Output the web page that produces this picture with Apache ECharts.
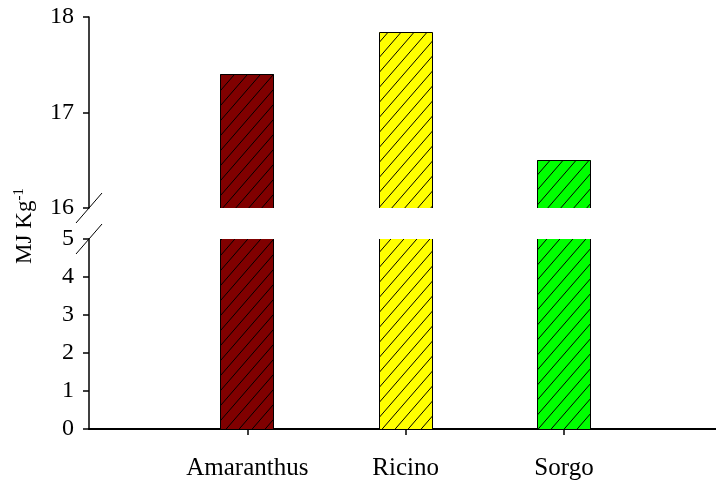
<!DOCTYPE html>
<html>
<head>
<meta charset="utf-8">
<script src="https://cdn.jsdelivr.net/npm/echarts@6/dist/echarts.min.js"></script>
<style>
  html, body { margin: 0; padding: 0; background: #fff; }
  #chart { width: 716px; height: 485px; }
</style>
</head>
<body>
<div id="chart"></div>
<script>
// Energy content of each crop (MJ per kg)
const CATEGORIES = ['Amaranthus', 'Ricino', 'Sorgo'];
const ENERGY = [17.4, 17.84, 16.5];

// Broken value axis: upper segment and lower segment
const UPPER_RANGE = [16, 18];
const LOWER_RANGE = [0, 5];

// Fill colours of the bars
const BAR_COLORS = ['#800000', '#ffff00', '#00ff00'];

const FONT = '"Liberation Serif", "Times New Roman", serif';
const BAR_W = 54;

// Diagonal hatch tile drawn over a solid fill
function makeHatch(color) {
  const w = 13, h = 15;
  const c = document.createElement('canvas');
  c.width = w; c.height = h;
  const ctx = c.getContext('2d');
  ctx.fillStyle = color;
  ctx.fillRect(0, 0, w, h);
  ctx.strokeStyle = '#000';
  ctx.lineWidth = 1;
  for (let k = -1; k <= 1; k++) {
    ctx.beginPath();
    ctx.moveTo(k * w, h);
    ctx.lineTo(k * w + w, 0);
    ctx.stroke();
  }
  return { image: c, repeat: 'repeat' };
}
const PATTERNS = BAR_COLORS.map(makeHatch);

// Bars clipped to their axis segment; the edge at a break is left open
function renderBar(params, api) {
  const cs = params.coordSys;
  const pt = api.coord([api.value(0), api.value(1)]);
  const yBase = cs.y + cs.height;
  const clipped = pt[1] < cs.y;
  const yTop = clipped ? cs.y : pt[1];
  const x0 = Math.round(pt[0] - BAR_W / 2);
  const x1 = x0 + BAR_W;
  const children = [{
    type: 'rect',
    shape: { x: x0, y: yTop, width: BAR_W, height: yBase - yTop },
    style: { fill: PATTERNS[params.dataIndex] }
  }];
  const lineStyle = { stroke: '#000', lineWidth: 1, fill: null };
  const l = x0 + 0.5, r = x1 - 0.5, t = Math.round(yTop) + 0.5;
  if (clipped) {
    children.push({ type: 'polyline', shape: { points: [[l, yBase], [l, yTop]] }, style: lineStyle });
    children.push({ type: 'polyline', shape: { points: [[r, yBase], [r, yTop]] }, style: lineStyle });
  } else {
    children.push({ type: 'polyline', shape: { points: [[l, yBase], [l, t], [r, t], [r, yBase]] }, style: lineStyle });
  }
  return { type: 'group', children };
}

const barData = ENERGY.map((v, i) => [i + 1, v]);

const yAxisCommon = {
  type: 'value',
  interval: 1,
  axisLine: { show: true, lineStyle: { color: '#000', width: 1.5 } },
  axisTick: { show: true, length: 6, lineStyle: { color: '#000', width: 1.5 } },
  axisLabel: { color: '#000', fontFamily: FONT, fontSize: 24, margin: 15 },
  splitLine: { show: false }
};

const chart = echarts.init(document.getElementById('chart'), null, { renderer: 'canvas' });

chart.setOption({
  animation: false,
  backgroundColor: '#fff',
  grid: [
    { left: 89, right: 0, top: 17, bottom: 277 },
    { left: 89, right: 0, top: 239, bottom: 56 }
  ],
  xAxis: [
    { type: 'value', gridIndex: 0, min: 0, max: 3.96, show: false },
    {
      type: 'value', gridIndex: 1, min: 0, max: 3.96, interval: 1,
      axisLine: { show: true, lineStyle: { color: '#000', width: 2 } },
      axisTick: { show: true, length: 6, customValues: [1, 2, 3], lineStyle: { color: '#000', width: 1.5 } },
      axisLabel: {
        customValues: [1, 2, 3],
        formatter: v => CATEGORIES[Math.round(v) - 1] || '',
        color: '#000', fontFamily: FONT, fontSize: 25, margin: 27
      },
      splitLine: { show: false }
    }
  ],
  yAxis: [
    Object.assign({}, yAxisCommon, { gridIndex: 0, min: UPPER_RANGE[0], max: UPPER_RANGE[1] }),
    Object.assign({}, yAxisCommon, { gridIndex: 1, min: LOWER_RANGE[0], max: LOWER_RANGE[1] })
  ],
  series: [
    { type: 'custom', xAxisIndex: 0, yAxisIndex: 0, data: barData, encode: { x: 0, y: 1 }, renderItem: renderBar, z: 1 },
    { type: 'custom', xAxisIndex: 1, yAxisIndex: 1, data: barData, encode: { x: 0, y: 1 }, renderItem: renderBar, z: 1 }
  ]
});

// Break marks on the value axis and the rotated axis title
const axisX = chart.convertToPixel({ xAxisIndex: 1 }, 0);
const yBreakTop = chart.convertToPixel({ yAxisIndex: 0 }, UPPER_RANGE[0]);
const yBreakBottom = chart.convertToPixel({ yAxisIndex: 1 }, LOWER_RANGE[1]);
const breakLine = (y) => ({
  type: 'line',
  shape: { x1: axisX - 13, y1: y + 15, x2: axisX + 13, y2: y - 15 },
  style: { stroke: '#000', lineWidth: 1 },
  z: 10
});

chart.setOption({
  graphic: [
    breakLine(yBreakTop),
    breakLine(yBreakBottom),
    {
      type: 'text',
      x: 25, y: 226,
      rotation: Math.PI / 2,
      style: {
        text: '{a|MJ Kg}{b|-1}',
        align: 'center',
        verticalAlign: 'middle',
        rich: {
          a: { fontFamily: FONT, fontSize: 23, fill: '#000' },
          b: { fontFamily: FONT, fontSize: 15, fill: '#000', verticalAlign: 'top', padding: [0, 0, 12, 0] }
        }
      }
    }
  ]
});
</script>
</body>
</html>
